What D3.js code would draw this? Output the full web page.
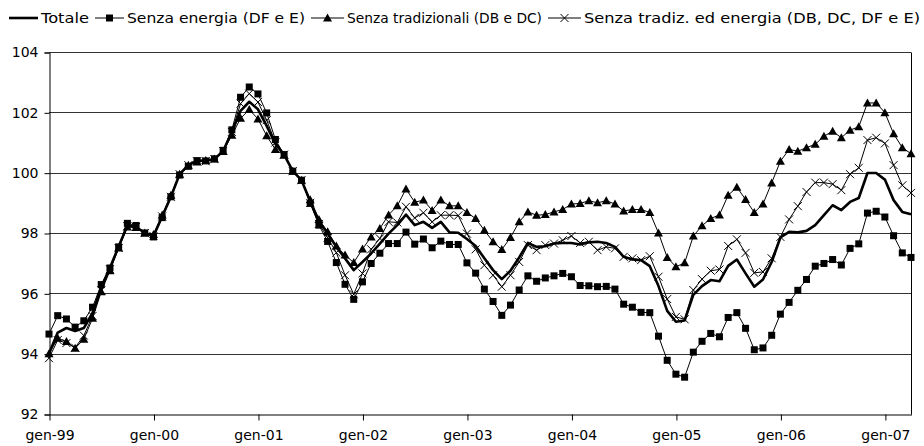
<!DOCTYPE html>
<html><head><meta charset="utf-8">
<script src="https://cdn.jsdelivr.net/npm/d3@7"></script>
<style>html,body{margin:0;padding:0;background:#fff;}svg{display:block;}</style>
</head><body>
<svg id="chart" width="924" height="446"></svg>
<script>
const monthNames = ["gen","feb","mar","apr","mag","giu","lug","ago","set","ott","nov","dic"];
const years = ["99","00","01","02","03","04","05","06","07"];
const categories = [];
years.forEach(y => monthNames.forEach(m => categories.push(m + "-" + y)));
categories.length = 100; // gen-99 .. apr-07

const tickLabels = ["gen-99","gen-00","gen-01","gen-02","gen-03","gen-04","gen-05","gen-06","gen-07"];
const yTicks = [92, 94, 96, 98, 100, 102, 104];

const totale = [94.0,94.7,94.85,94.75,94.85,95.35,96.2,96.85,97.55,98.25,
98.2,98.0,97.9,98.55,99.2,99.95,100.25,100.4,100.4,100.45,
100.72,101.35,102.05,102.35,102.1,101.55,100.95,100.6,100.05,99.75,
99.05,98.4,97.98,97.54,97.16,96.77,97.04,97.32,97.65,97.98,
98.26,98.61,98.26,98.37,98.17,98.37,98.02,98.01,97.8,97.57,
97.16,96.77,96.47,96.75,97.19,97.67,97.54,97.56,97.65,97.67,
97.67,97.62,97.69,97.71,97.67,97.54,97.21,97.12,97.1,96.9,
96.24,95.42,95.06,95.1,95.95,96.24,96.44,96.4,96.91,97.12,
96.66,96.22,96.46,97.04,97.85,98.04,98.02,98.07,98.26,98.59,
98.92,98.76,99.03,99.16,99.99,99.99,99.77,99.09,98.7,98.62];

const senzaEnergia = [94.65,95.26,95.15,94.88,95.09,95.54,96.29,96.84,97.54,98.32,
98.25,98.0,97.87,98.51,99.2,99.92,100.21,100.4,100.39,100.46,
100.74,101.42,102.5,102.84,102.61,101.98,101.1,100.6,100.05,99.75,
98.98,98.26,97.72,97.02,96.3,95.8,96.38,96.99,97.33,97.65,
97.65,98.03,97.63,97.8,97.51,97.73,97.62,97.62,97.01,96.67,
96.14,95.73,95.27,95.61,96.11,96.58,96.4,96.51,96.58,96.66,
96.55,96.26,96.25,96.22,96.23,96.14,95.64,95.54,95.37,95.36,
94.58,93.78,93.32,93.22,94.05,94.41,94.67,94.56,95.2,95.36,
94.84,94.13,94.19,94.61,95.31,95.7,96.1,96.46,96.9,96.99,
97.12,96.94,97.49,97.64,98.66,98.72,98.53,97.91,97.34,97.19];

const senzaTradizionali = [94.0,94.51,94.4,94.18,94.48,95.17,96.05,96.75,97.5,98.2,
98.18,98.0,97.95,98.6,99.25,99.95,100.25,100.35,100.4,100.45,
100.7,101.24,101.8,102.09,101.78,101.22,100.77,100.58,100.05,99.75,
99.1,98.45,98.04,97.57,97.27,97.02,97.47,97.87,98.15,98.6,
98.9,99.46,99.02,99.09,98.75,99.09,98.9,98.9,98.68,98.48,
98.09,97.71,97.45,97.85,98.37,98.7,98.59,98.61,98.7,98.78,
98.96,98.98,99.07,99.0,99.07,98.96,98.73,98.78,98.78,98.68,
98.0,97.19,96.88,97.01,97.9,98.24,98.48,98.6,99.25,99.52,
99.11,98.68,98.96,99.66,100.38,100.77,100.71,100.83,100.94,101.21,
101.37,101.16,101.41,101.52,102.31,102.31,101.99,101.29,100.83,100.63];

const senzaTradizEnergia = [93.85,94.45,94.35,94.2,94.6,95.25,96.1,96.8,97.5,98.22,
98.2,98.0,97.9,98.55,99.2,99.95,100.25,100.38,100.38,100.45,
100.72,101.35,102.29,102.62,102.34,101.74,101.0,100.6,100.05,99.75,
99.0,98.3,97.85,97.35,96.6,95.97,96.66,97.46,97.82,98.37,
98.35,98.87,98.5,98.67,98.37,98.59,98.59,98.58,97.98,97.46,
96.93,96.6,96.22,96.6,97.04,97.6,97.43,97.6,97.65,97.76,
97.9,97.67,97.71,97.43,97.54,97.49,97.21,97.16,97.1,97.23,
96.55,95.81,95.22,95.14,96.11,96.47,96.75,96.79,97.57,97.79,
97.34,96.68,96.71,97.16,97.87,98.45,98.89,99.36,99.67,99.67,
99.62,99.42,99.95,100.16,101.08,101.16,100.97,100.25,99.58,99.33];

const seriesNames = ["Totale","Senza energia (DF e E)","Senza tradizionali (DB e DC)","Senza tradiz. ed energia (DB, DC, DF e E)"];

const series = [
  {name: seriesNames[0], values: totale, marker: "none", width: 2.6},
  {name: seriesNames[1], values: senzaEnergia, marker: "square", width: 1},
  {name: seriesNames[2], values: senzaTradizionali, marker: "triangle", width: 1},
  {name: seriesNames[3], values: senzaTradizEnergia, marker: "cross", width: 1}
];

const svg = d3.select("#chart");
const W = 924, H = 446;
const margin = {left: 49, right: 13, top: 52, bottom: 32};
const x = d3.scalePoint().domain(categories).range([margin.left, W - margin.right]);
const y = d3.scaleLinear().domain([92, 104]).range([H - margin.bottom, margin.top]);
const FONT = "'DejaVu Sans', Verdana, sans-serif";

// gridlines
svg.append("g").selectAll("line").data(yTicks.slice(1)).join("line")
  .attr("x1", margin.left).attr("x2", W - margin.right)
  .attr("y1", d => Math.round(y(d)) + 0.5).attr("y2", d => Math.round(y(d)) + 0.5)
  .attr("stroke", "#333").attr("stroke-width", 1);

// right border
svg.append("line").attr("x1", W - margin.right + 0.5).attr("x2", W - margin.right + 0.5)
  .attr("y1", Math.round(y(104)) + 0.5).attr("y2", Math.round(y(92)) + 0.5)
  .attr("stroke", "#000");

// y axis
const yAxis = d3.axisLeft(y).tickValues(yTicks).tickSize(5).tickPadding(6).tickFormat(d3.format("d"));
const gy = svg.append("g").attr("transform", `translate(${margin.left + 0.5},0.5)`).call(yAxis);
gy.select(".domain").attr("stroke", "#000");
gy.selectAll(".tick text").attr("font-family", FONT).attr("font-size", 14).attr("fill", "#000");

// x axis
const xAxis = d3.axisBottom(x).tickValues(tickLabels).tickSize(6).tickPadding(10).tickSizeOuter(0);
const gx = svg.append("g").attr("transform", `translate(0.5,${Math.round(y(92)) + 0.5})`).call(xAxis);
gx.select(".domain").attr("stroke", "#000");
gx.selectAll(".tick text").attr("font-family", FONT).attr("font-size", 14).attr("fill", "#000");

// lines
const line = d3.line().x((d, i) => x(categories[i])).y(d => y(d));
const drawOrder = [1, 2, 3, 0];
drawOrder.forEach(k => {
  const s = series[k];
  svg.append("path").datum(s.values).attr("d", line)
    .attr("fill", "none").attr("stroke", "#000").attr("stroke-width", s.width)
    .attr("stroke-linejoin", "round");
});

function drawMarker(g, type, cx, cy) {
  if (type === "square") {
    g.append("rect").attr("x", cx - 3.5).attr("y", cy - 3.5).attr("width", 7).attr("height", 7).attr("fill", "#000");
  } else if (type === "triangle") {
    g.append("path").attr("d", `M${cx},${cy - 4.5}L${cx + 4.5},${cy + 3.5}L${cx - 4.5},${cy + 3.5}Z`).attr("fill", "#000");
  } else if (type === "cross") {
    g.append("path").attr("d", `M${cx - 4},${cy - 4}L${cx + 4},${cy + 4}M${cx - 4},${cy + 4}L${cx + 4},${cy - 4}`)
      .attr("stroke", "#000").attr("stroke-width", 1).attr("fill", "none");
  }
}
[1, 2, 3].forEach(k => {
  const s = series[k];
  const g = svg.append("g");
  s.values.forEach((v, i) => drawMarker(g, s.marker, x(categories[i]), y(v)));
});

// legend
const legendItems = [
  {s: 0, lx1: 9, lx2: 38, tx: 41, tw: 48},
  {s: 1, lx1: 95, lx2: 124, tx: 127, tw: 178},
  {s: 2, lx1: 311, lx2: 344, tx: 347, tw: 195},
  {s: 3, lx1: 548, lx2: 581, tx: 584, tw: 336}
];
const ly = 18;
const lg = svg.append("g");
legendItems.forEach(it => {
  const s = series[it.s];
  lg.append("line").attr("x1", it.lx1).attr("x2", it.lx2).attr("y1", ly).attr("y2", ly)
    .attr("stroke", "#000").attr("stroke-width", s.width);
  drawMarker(lg, s.marker, (it.lx1 + it.lx2) / 2, ly);
  lg.append("text").attr("x", it.tx).attr("y", ly).attr("dy", "0.35em")
    .attr("font-family", FONT).attr("font-size", 14)
    .attr("textLength", it.tw).attr("lengthAdjust", "spacingAndGlyphs")
    .text(s.name);
});
</script>
</body></html>
